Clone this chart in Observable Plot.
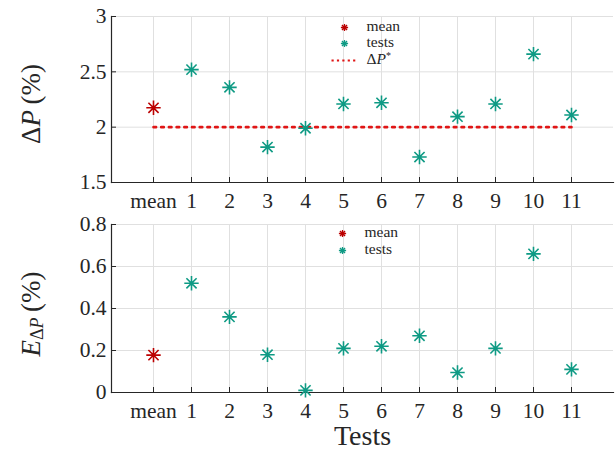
<!DOCTYPE html>
<html><head><meta charset="utf-8">
<script src="https://cdn.jsdelivr.net/npm/d3@7"></script>
<script src="https://cdn.jsdelivr.net/npm/@observablehq/plot@0.6"></script>
<style>
body{margin:0;background:#fff;}
#chart{position:relative;width:616px;height:451px;}
#chart svg{display:block;}
#chart svg text{font-family:"Liberation Serif","Times New Roman","DejaVu Serif","Noto Serif",Times,serif !important;}
</style></head><body><div id="chart"></div>
<script>
// ---- data ----
const testLabels = ["1","2","3","4","5","6","7","8","9","10","11"];
const meanLabel = "mean";
const deltaP = [2.52, 2.36, 1.82, 1.99, 2.21, 2.22, 1.73, 2.095, 2.21, 2.66, 2.11];
const deltaPMean = 2.175;
const errorDP = [0.52, 0.36, 0.18, 0.01, 0.21, 0.22, 0.27, 0.095, 0.21, 0.66, 0.11];
const errorMean = 0.178;
const targetDP = 2;
const yTicksTop = [1.5, 2, 2.5, 3];
const yTicksBottom = [0, 0.2, 0.4, 0.6, 0.8];
const legendTop = ["mean", "tests", "ΔP*"];
const legendBottom = ["mean", "tests"];

const categories = [meanLabel, ...testLabels];
const testsTop = testLabels.map((t, i) => ({cat: t, v: deltaP[i]}));
const testsBottom = testLabels.map((t, i) => ({cat: t, v: errorDP[i]}));

// ---- style ----
const meanColor = "#bb0000";
const testColor = "#0e9a84";
const targetColor = "#e01515";
const gridColor = "#e0e0e0";
const axisColor = "#262626";
const font = "Liberation Serif, Times New Roman, DejaVu Serif, serif";

const star = {
  draw(ctx, size) {
    const r = Math.sqrt(size / Math.PI), d = r * Math.SQRT1_2;
    ctx.moveTo(-r, 0); ctx.lineTo(r, 0);
    ctx.moveTo(0, -r); ctx.lineTo(0, r);
    ctx.moveTo(-d, -d); ctx.lineTo(d, d);
    ctx.moveTo(-d, d); ctx.lineTo(d, -d);
  }
};
const hline = {
  draw(ctx, size) {
    const r = Math.sqrt(size / Math.PI);
    ctx.moveTo(-r, 0); ctx.lineTo(r, 0);
  }
};

function legendMarks(items, dx0, dy0, step) {
  const marks = [];
  items.forEach((name, i) => {
    const dy = dy0 + i * step + (name === "ΔP*" ? 1 : 0);
    if (name === "mean" || name === "tests") {
      marks.push(Plot.dot([0], {x: null, y: null, frameAnchor: "top-left", dx: dx0, dy,
        r: 3.6, symbol: star, stroke: name === "mean" ? meanColor : testColor, strokeWidth: 1.3}));
    } else {
      marks.push(Plot.dot([0], {x: null, y: null, frameAnchor: "top-left", dx: dx0 - 1, dy,
        r: 12, symbol: hline, stroke: targetColor, strokeWidth: 2.2, strokeDasharray: "2.2,3.2"}));
    }
    marks.push(Plot.text([name], {x: null, y: null, text: d => d, frameAnchor: "top-left",
      dx: dx0 + 22, dy: dy - 1, textAnchor: "start", lineAnchor: "middle", fontSize: 15.5, fill: axisColor}));
  });
  return marks;
}

function panel({height, marginTop, marginBottom, yDomain, yTicks, tests, meanValue, extra, legend}) {
  return Plot.plot({
    width: 616, height, marginLeft: 111, marginRight: 3, marginTop, marginBottom,
    style: {fontFamily: font, fontSize: "21.5px", color: axisColor, background: "#fff", overflow: "visible"},
    x: {type: "point", domain: categories, padding: 1},
    y: {domain: yDomain},
    marks: [
      Plot.gridX(categories, {stroke: gridColor, strokeOpacity: 1, strokeWidth: 1}),
      Plot.gridY(yTicks, {stroke: gridColor, strokeOpacity: 1, strokeWidth: 1}),
      ...(extra || []),
      Plot.frame({anchor: "left", stroke: axisColor, strokeWidth: 1.2}),
      Plot.frame({anchor: "bottom", stroke: axisColor, strokeWidth: 1.2}),
      Plot.axisX(categories, {tickSize: -5, tickPadding: 15, label: null, stroke: axisColor, fill: axisColor}),
      Plot.axisY(yTicks, {tickSize: -5, tickPadding: 10, label: null, tickFormat: d => String(d), stroke: axisColor, fill: axisColor}),
      Plot.dot([meanValue], {x: () => meanLabel, y: d => d, symbol: star, r: 7.2, stroke: meanColor, strokeWidth: 1.6}),
      Plot.dot(tests, {x: "cat", y: "v", symbol: star, r: 7.2, stroke: testColor, strokeWidth: 1.6}),
      ...legend
    ]
  });
}

const topPlot = panel({
  height: 212, marginTop: 16, marginBottom: 30,
  yDomain: [1.5, 3], yTicks: yTicksTop, tests: testsTop, meanValue: deltaPMean,
  extra: [Plot.lineY(categories, {x: d => d, y: () => targetDP, stroke: targetColor, strokeWidth: 2.6, strokeDasharray: "2.6,5.1"})],
  legend: legendMarks(legendTop, 233, 11, 16)
});
const bottomPlot = panel({
  height: 239, marginTop: 12, marginBottom: 59,
  yDomain: [0, 0.8], yTicks: yTicksBottom, tests: testsBottom, meanValue: errorMean,
  extra: [Plot.text(["Tests"], {x: null, y: null, text: d => d, frameAnchor: "bottom", dy: 44, lineAnchor: "middle", fontSize: 28, fill: axisColor})],
  legend: legendMarks(legendBottom, 231, 9, 17)
});

const root = document.getElementById("chart");
root.appendChild(topPlot);
root.appendChild(bottomPlot);

// rich text: legend entry ΔP*
d3.select(topPlot).selectAll("text").filter(function() { return this.textContent === "ΔP*"; })
  .each(function() {
    const t = d3.select(this); t.text("");
    t.append("tspan").text("Δ");
    t.append("tspan").attr("font-style", "italic").text("P");
    t.append("tspan").attr("font-size", 10).attr("dy", -5).text("*");
  });

// y-axis titles
function yTitle(svg, cy, build) {
  const t = d3.select(svg).append("text")
    .attr("transform", `translate(31,${cy}) rotate(-90)`)
    .attr("text-anchor", "middle").attr("dominant-baseline", "central")
    .attr("font-size", 27).attr("fill", axisColor);
  build(t);
}
yTitle(topPlot, 104, t => {
  t.append("tspan").text("Δ");
  t.append("tspan").attr("font-style", "italic").text("P");
  t.append("tspan").text("\u2009(%)");
});
yTitle(bottomPlot, 102, t => {
  t.append("tspan").attr("font-style", "italic").text("E");
  t.append("tspan").attr("font-size", 18).attr("dy", 6).text("Δ");
  t.append("tspan").attr("font-size", 18).attr("font-style", "italic").text("P");
  t.append("tspan").attr("dy", -6).text("\u2009(%)");
});
</script></body></html>
